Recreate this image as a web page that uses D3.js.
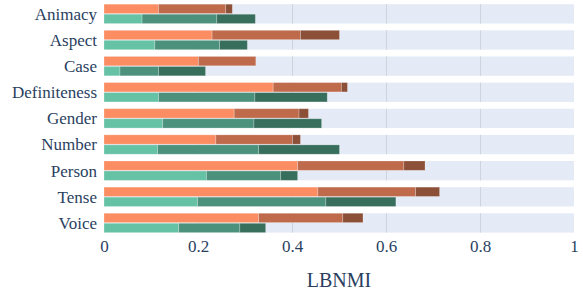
<!DOCTYPE html>
<html>
<head>
<meta charset="utf-8">
<script src="https://cdn.jsdelivr.net/npm/d3@7"></script>
<style>
  body { margin: 0; background: #fff; }
</style>
</head>
<body>
<div id="chart"></div>
<script>
// categories and series (cumulative positions, converted to segment sizes below)
var categories = ['Animacy', 'Aspect', 'Case', 'Definiteness', 'Gender', 'Number', 'Person', 'Tense', 'Voice'];
var groups = ['orange', 'green'];

// segment widths: [light, medium, dark]
var orangeLight = [0.116, 0.230, 0.201, 0.360, 0.277, 0.238, 0.412, 0.455, 0.329];
var orangeMid   = [0.143, 0.188, 0.122, 0.145, 0.138, 0.163, 0.226, 0.208, 0.179];
var orangeDark  = [0.014, 0.083, 0.000, 0.013, 0.020, 0.017, 0.045, 0.051, 0.043];
var greenLight  = [0.081, 0.108, 0.034, 0.116, 0.125, 0.114, 0.218, 0.199, 0.159];
var greenMid    = [0.159, 0.138, 0.082, 0.205, 0.194, 0.215, 0.158, 0.273, 0.130];
var greenDark   = [0.082, 0.059, 0.100, 0.154, 0.144, 0.172, 0.036, 0.149, 0.055];

var xTicks = [0, 0.2, 0.4, 0.6, 0.8, 1];
var xTitle = 'LBNMI';

var colors = {
  orange: ['#fc8d62', '#bf6a4a', '#8c4f37'],
  green: ['#66c2a5', '#4b917c', '#386e5c']
};

var series = {
  orange: [orangeLight, orangeMid, orangeDark],
  green: [greenLight, greenMid, greenDark]
};

var FONT = "'Liberation Serif', serif";
var INK = '#2a3f5f';

var width = 583, height = 293;
var margin = {left: 104, right: 9, top: 0.8, bottom: 57};

var svg = d3.select('#chart').append('svg')
  .attr('width', width)
  .attr('height', height);

var x = d3.scaleLinear().domain([0, 1]).range([margin.left, width - margin.right]);
var y = d3.scaleBand().domain(categories)
  .range([margin.top, height - margin.bottom])
  .paddingInner(0.26).paddingOuter(0.13);
var sub = d3.scaleBand().domain(groups).range([0, y.bandwidth()]).paddingInner(0.07);

// background band per category
svg.append('g').selectAll('rect')
  .data(categories)
  .enter().append('rect')
  .attr('x', x(0))
  .attr('y', function(d) { return y(d); })
  .attr('width', x(1) - x(0))
  .attr('height', y.bandwidth())
  .attr('fill', '#e5ebf6');

// gridlines, only inside the bands
var grid = svg.append('g');
categories.forEach(function(c) {
  grid.selectAll(null)
    .data([0.2, 0.4, 0.6, 0.8])
    .enter().append('line')
    .attr('x1', function(d) { return Math.round(x(d)) + 0.5; })
    .attr('x2', function(d) { return Math.round(x(d)) + 0.5; })
    .attr('y1', y(c))
    .attr('y2', y(c) + y.bandwidth())
    .attr('stroke', '#cfd4dc')
    .attr('stroke-width', 1);
});

// stacked bars
var bars = svg.append('g');
groups.forEach(function(g) {
  var segs = series[g];
  categories.forEach(function(c, i) {
    var start = 0;
    segs.forEach(function(vals, k) {
      var v = vals[i];
      if (v > 0) {
        bars.append('rect')
          .attr('x', x(start))
          .attr('y', y(c) + sub(g))
          .attr('width', x(start + v) - x(start))
          .attr('height', sub.bandwidth())
          .attr('fill', colors[g][k])
          .attr('stroke', 'rgba(255,255,255,0.3)')
          .attr('stroke-width', 0.8);
      }
      start += v;
    });
  });
});

// category labels
svg.append('g').selectAll('text')
  .data(categories)
  .enter().append('text')
  .attr('x', margin.left - 7)
  .attr('y', function(d) { return y(d) + y.bandwidth() / 2; })
  .attr('dy', '0.35em')
  .attr('text-anchor', 'end')
  .attr('font-family', FONT)
  .attr('font-size', 17)
  .attr('fill', INK)
  .text(function(d) { return d; });

// x axis
var xAxis = svg.append('g')
  .attr('transform', 'translate(0,' + (height - margin.bottom) + ')')
  .call(d3.axisBottom(x).tickValues(xTicks).tickSize(0).tickPadding(3.5)
    .tickFormat(function(d) { return d === 0 || d === 1 ? String(d) : d.toFixed(1); }));
xAxis.attr('font-family', FONT).attr('font-size', 17);
xAxis.select('.domain').remove();
xAxis.selectAll('text').attr('fill', INK);

svg.append('text')
  .attr('x', (x(0) + x(1)) / 2)
  .attr('y', 287)
  .attr('text-anchor', 'middle')
  .attr('font-family', FONT)
  .attr('font-size', 20)
  .attr('fill', INK)
  .text(xTitle);
</script>
</body>
</html>
